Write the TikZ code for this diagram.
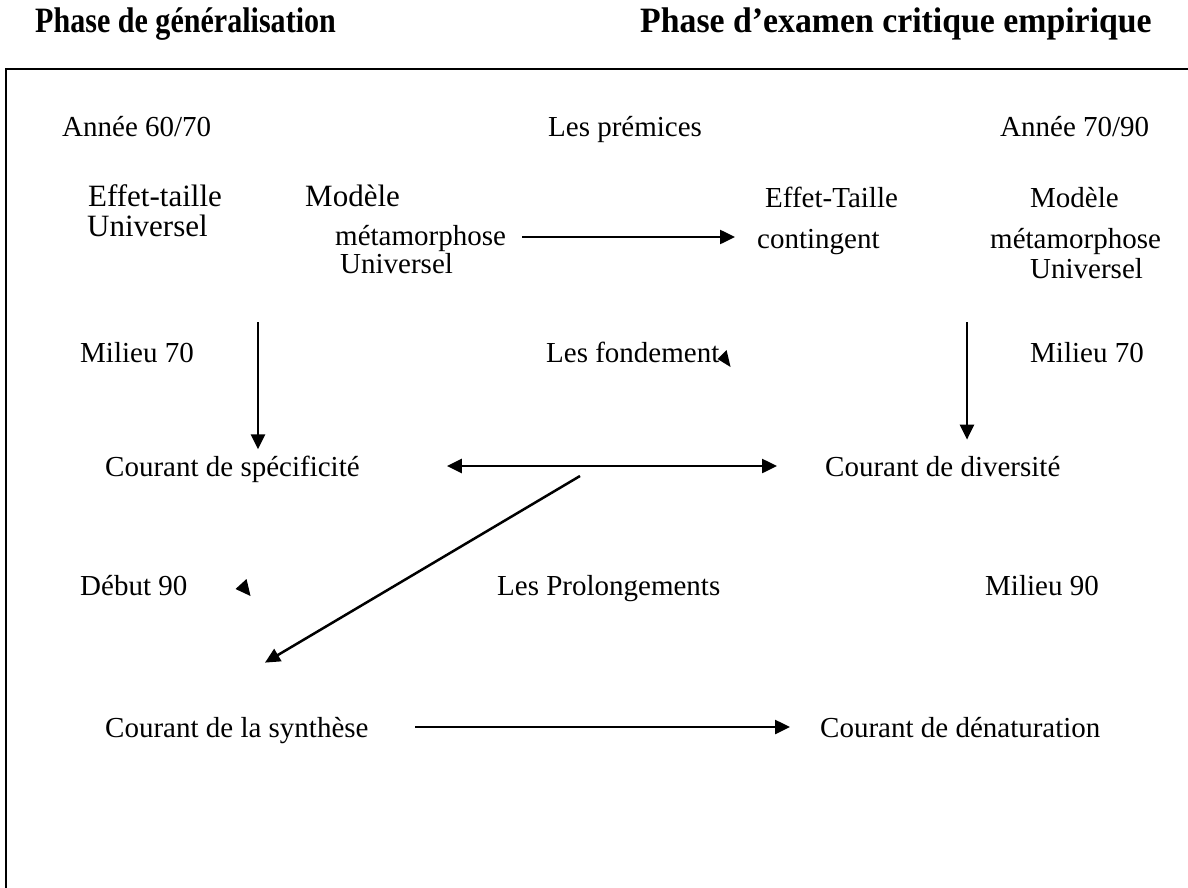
\documentclass[tikz,border=0pt]{standalone}
\usepackage{fontspec}
\setmainfont{Liberation Serif}
\usetikzlibrary{calc,arrows.meta}

\tikzset{
  lbl/.style={font=\fontsize{29}{33}\selectfont, inner sep=0pt, anchor=base west},
  big/.style={lbl, font=\fontsize{31}{36}\selectfont},
  ttl/.style={lbl, font=\bfseries\fontsize{31}{36}\selectfont},
  link/.style={line width=2.5pt, -{Triangle[length=15pt,width=14pt]}},
  twoway/.style={line width=2.5pt, {Triangle[length=15pt,width=14pt]}-{Triangle[length=15pt,width=14pt]}}
}

\begin{document}
\begin{tikzpicture}[x=1pt,y=-1pt]
    \useasboundingbox (0,0) rectangle (1188,888);

    % titres
    \node [ttl] (gen) at (35,33) {\scalebox{0.97}[1.15]{Phase de généralisation}};
    \node [ttl] (exam) at (640,33) {\scalebox{1.09}[1.15]{Phase d’examen critique empirique}};
    \draw [line width=2.5pt] (6,888) -- (6,69) -- (1188,69);

    % les prémices
    \node [lbl] (an1) at (62,136) {Année 60/70};
    \node [lbl] (prem) at (548,136) {Les prémices};
    \node [lbl] (an2) at (1000,136) {Année 70/90};

    \node [big] (eff1) at (88,206) {Effet-taille};
    \node [big] (univ1) at (87,236) {Universel};
    \node [big] (mod1) at (305,206) {Modèle};
    \node [lbl] (meta1) at (335,245) {métamorphose};
    \node [lbl] (univ2) at (340,273) {Universel};

    \node [lbl] (eff2) at (765,207) {Effet-Taille};
    \node [lbl] (cont) at (757,248) {contingent};
    \node [lbl] (mod2) at (1030,207) {Modèle};
    \node [lbl] (meta2) at (990,248) {métamorphose};
    \node [lbl] (univ3) at (1030,278) {Universel};

    \draw [link] ($(meta1.base west)+(187,-8)$) -- ($(cont.base west |- meta1.base west)+(-22,-8)$);

    % les fondements
    \node [lbl] (mil1) at (80,362) {Milieu 70};
    \node [lbl] (fond) at (546,362) {Les fondement};
    \node [lbl] (mil2) at (1030,362) {Milieu 70};
    \fill ($(fond.base east)+(-2,-3)$) -- ++(9,-9) -- ++(4,17) -- cycle;

    \node [lbl] (spec) at (105,476) {Courant de spécificité};
    \node [lbl] (div) at (825,476) {Courant de diversité};

    \coordinate (v1) at (258,322);
    \coordinate (v2) at (967,322);
    \draw [link, shorten >=6pt] (v1) -- (v1 |- spec.north);
    \draw [link, shorten >=16pt] (v2) -- (v2 |- div.north);
    \draw [twoway] ($(spec.base east)+(87,-10)$) -- ($(div.base west)+(-48,-10)$);

    % les prolongements
    \node [lbl] (deb) at (80,595) {Début 90};
    \node [lbl] (prol) at (497,595) {Les Prolongements};
    \node [lbl] (mil3) at (985,595) {Milieu 90};
    \fill ($(deb.base east)+(48,-6)$) -- ++(11,-10) -- ++(4,17) -- cycle;

    \node [lbl] (synth) at (105,737) {Courant de la synthèse};
    \node [lbl] (denat) at (820,737) {Courant de dénaturation};

    \coordinate (d0) at (580,476);
    \draw [link] (d0) -- ($(synth.north west)+(160,-54)$);
    \draw [link] ($(synth.base west)+(310,-10)$) -- ($(denat.base west)+(-30,-10)$);
  \end{tikzpicture}
\end{document}
